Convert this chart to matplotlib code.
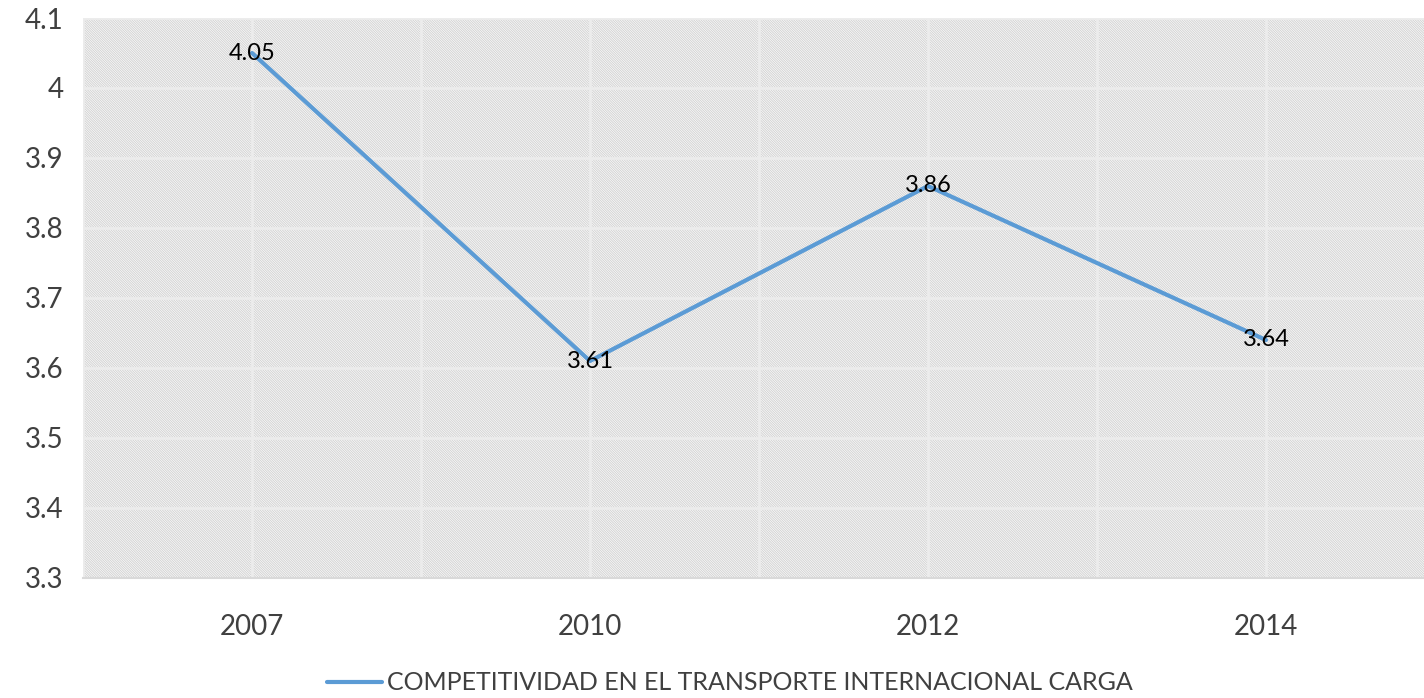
import matplotlib
matplotlib.use("Agg")
import matplotlib.pyplot as plt
from matplotlib.patches import Rectangle
from matplotlib.ticker import FixedLocator

years = ["2007", "2010", "2012", "2014"]
values = [4.05, 3.61, 3.86, 3.64]
value_labels = ["4.05", "3.61", "3.86", "3.64"]
series_name = "COMPETITIVIDAD EN EL TRANSPORTE INTERNACIONAL CARGA"
y_ticks = [3.3, 3.4, 3.5, 3.6, 3.7, 3.8, 3.9, 4.0, 4.1]
y_tick_labels = ["3.3", "3.4", "3.5", "3.6", "3.7", "3.8", "3.9", "4", "4.1"]

plt.rcParams['font.family'] = ['Lato', 'DejaVu Sans']
plt.rcParams['hatch.linewidth'] = 0.75

fig = plt.figure(figsize=(14.24, 6.98), dpi=100)
ax = fig.add_axes([83/1424, 1 - 578/698, 1352/1424, 560/698])

x = list(range(len(years)))
ax.set_xlim(-0.5, len(years) - 0.5)
ax.set_ylim(3.3, 4.1)

# hatched background
bg = Rectangle((0, 0), 1, 1, transform=ax.transAxes, facecolor='white',
               edgecolor='#d4d4d4', linewidth=0, hatch='\\' * 14, zorder=0)
ax.add_patch(bg)

ax.set_yticks(y_ticks)
ax.set_yticklabels(y_tick_labels)
ax.set_xticks(x)
ax.set_xticklabels(years)
ax.xaxis.set_minor_locator(FixedLocator([i + 0.5 for i in range(-1, len(years))]))

ax.grid(True, which='major', axis='both', color='#ececec', linewidth=2.0, zorder=1)
ax.grid(True, which='minor', axis='x', color='#ececec', linewidth=2.0, zorder=1)
ax.set_axisbelow(True)

for s in ['top', 'right', 'left']:
    ax.spines[s].set_visible(False)
ax.spines['bottom'].set_color('#d9d9d9')
ax.spines['bottom'].set_linewidth(1.5)

ax.tick_params(axis='both', which='both', length=0)
ax.tick_params(axis='y', labelsize=20, colors='#404040', pad=14)
ax.tick_params(axis='x', labelsize=20, colors='#404040', pad=26)

line, = ax.plot(x, values, color='#5b9bd5', linewidth=3, zorder=3,
                label=series_name, solid_capstyle='round')

for xi, v, lab in zip(x, values, value_labels):
    ax.text(xi, v, lab, ha='center', va='center', fontsize=17, color='black',
            zorder=4)

leg = fig.legend(handles=[line], loc='center', bbox_to_anchor=(730/1424, 1 - 683/698),
                 frameon=False, fontsize=18, handlelength=2.2, handletextpad=0.2,
                 borderaxespad=0, borderpad=0)
for t in leg.get_texts():
    t.set_color('#404040')

fig.savefig("out.png", dpi=100)
